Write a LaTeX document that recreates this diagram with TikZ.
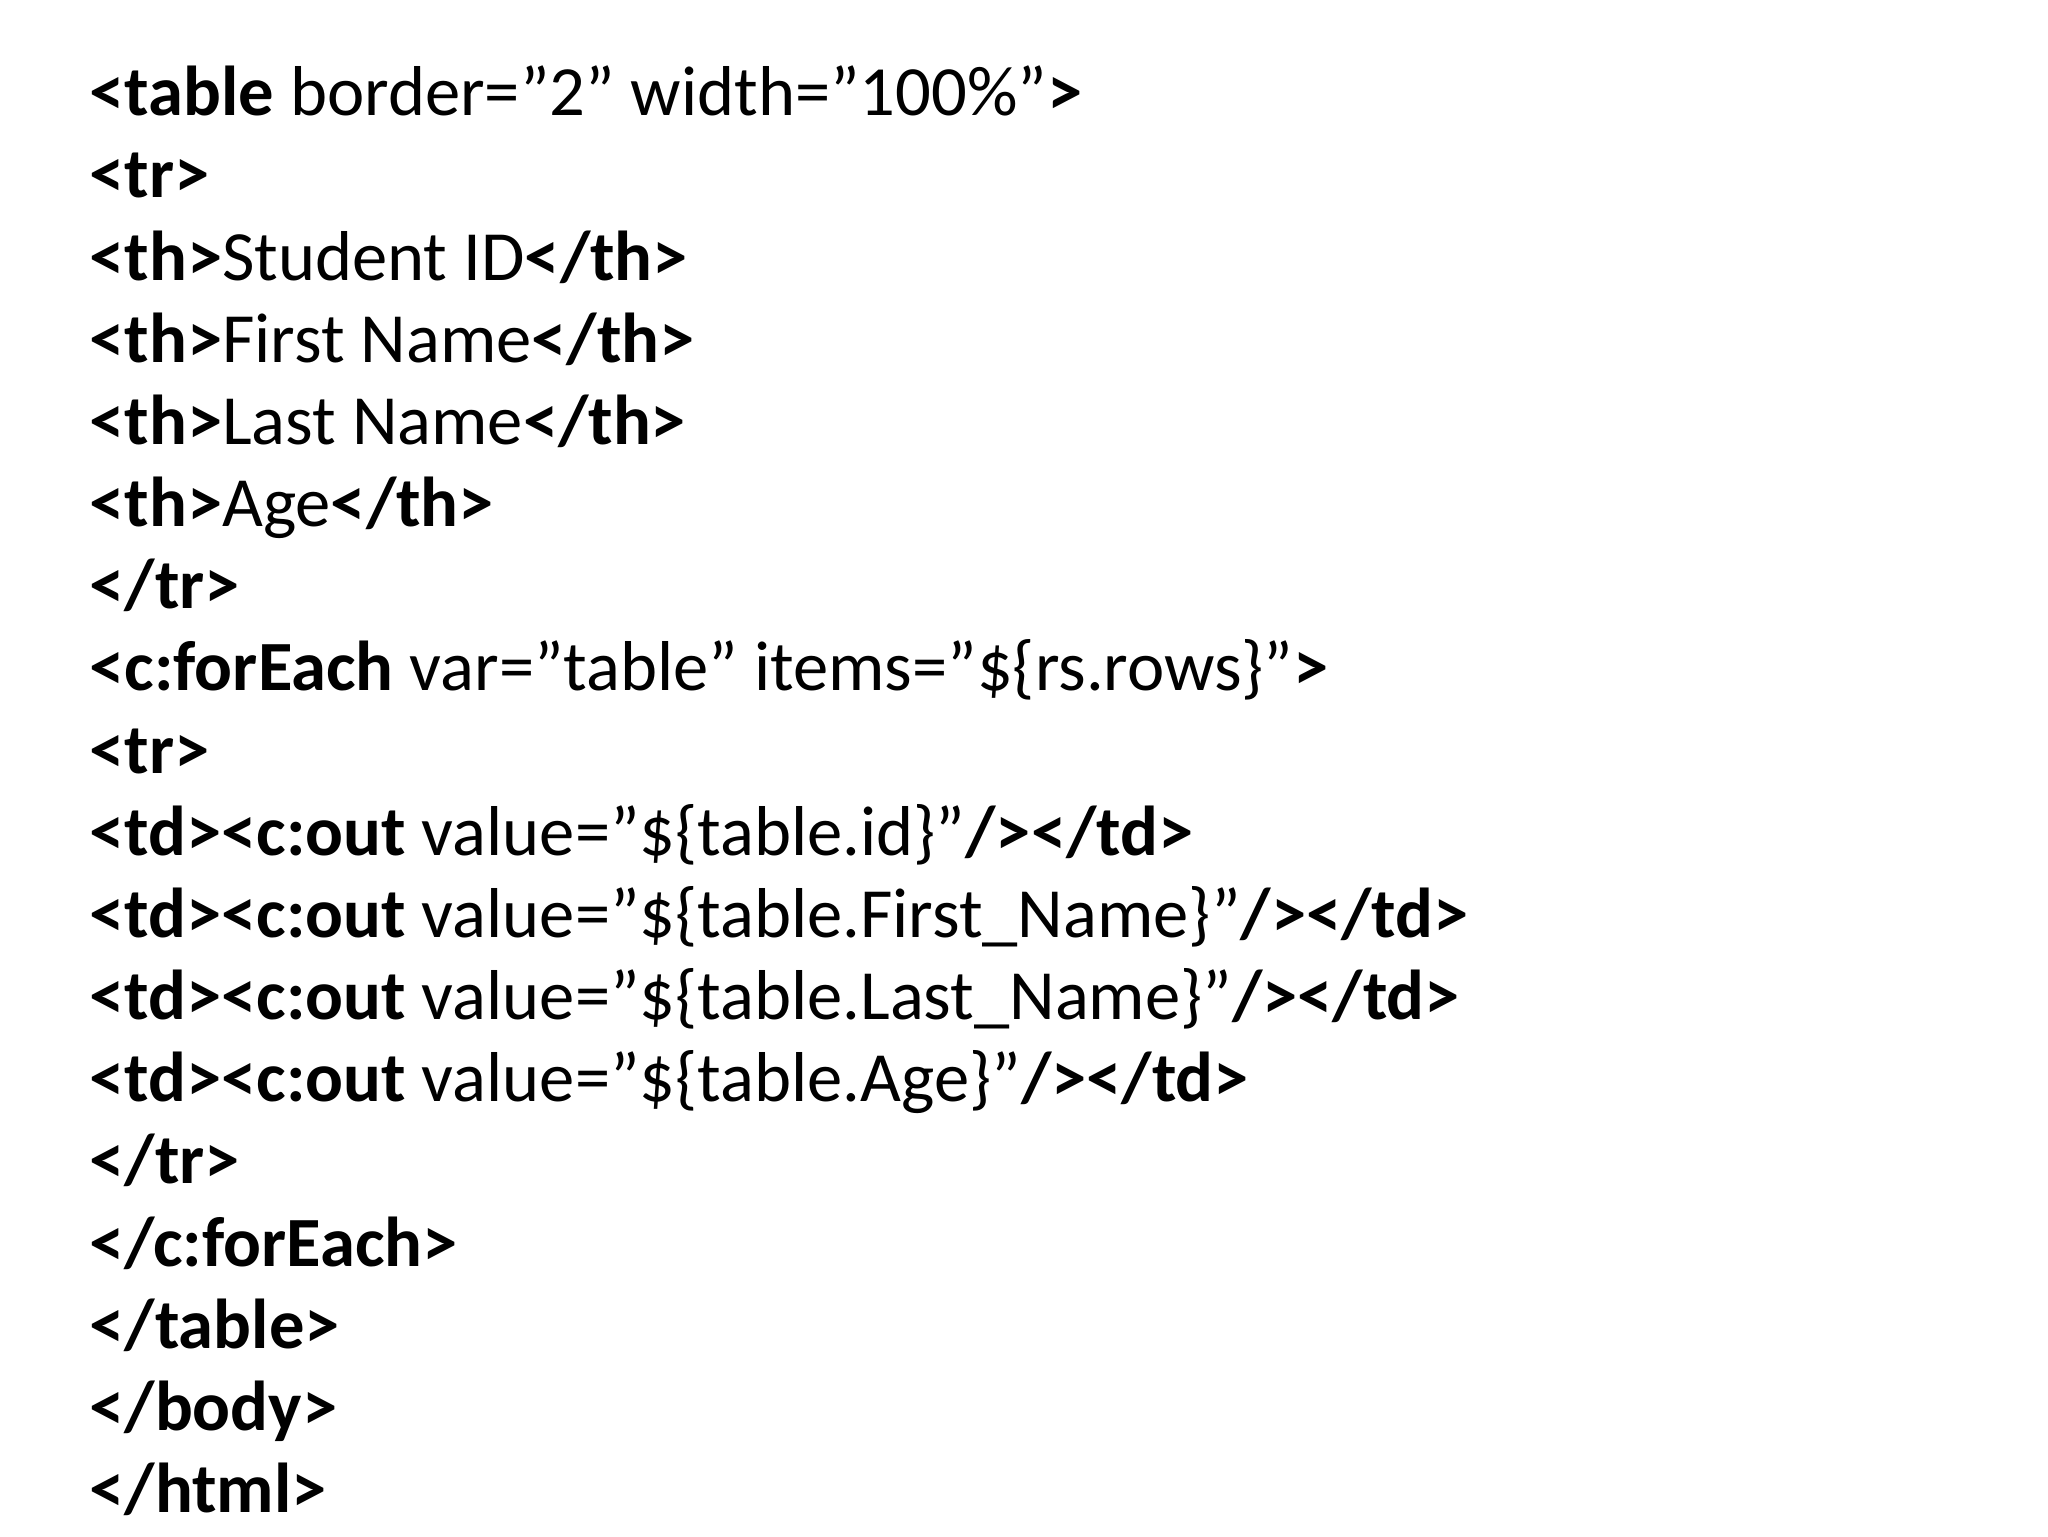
\documentclass[tikz,border=0pt]{standalone}
\usepackage{fontspec}
\setmainfont{Carlito}
\usetikzlibrary{positioning}
\newcommand{\tg}[1]{\textbf{#1}}
\tikzset{codeline/.style={anchor=base west,inner sep=0pt,font=\fontsize{25.5}{30}\selectfont}}
\begin{document}
\begin{tikzpicture}[x=1cm,y=1cm]
	\useasboundingbox[fill=white] (0,0) rectangle (26,-19.5);
	\foreach \txt [count=\i] in {
		{\tg{<table} border="2" width="100\%"\tg{>}},
		{\tg{<tr>}},
		{\tg{<th>}Student ID\tg{</th>}},
		{\tg{<th>}First Name\tg{</th>}},
		{\tg{<th>}Last Name\tg{</th>}},
		{\tg{<th>}Age\tg{</th>}},
		{\tg{</tr>}},
		{\tg{<c:forEach} var="table" items="\$\{rs.rows\}"\tg{>}},
		{\tg{<tr>}},
		{\tg{<td><c:out} value="\$\{table.id\}"\tg{/></td>}},
		{\tg{<td><c:out} value="\$\{table.First\_Name\}"\tg{/></td>}},
		{\tg{<td><c:out} value="\$\{table.Last\_Name\}"\tg{/></td>}},
		{\tg{<td><c:out} value="\$\{table.Age\}"\tg{/></td>}},
		{\tg{</tr>}},
		{\tg{</c:forEach>}},
		{\tg{</table>}},
		{\tg{</body>}},
		{\tg{</html>}}}
	\node[codeline] (line\i) at (1.13,{-1.47-1.043*(\i-1)}) {\txt};
\end{tikzpicture}
\end{document}
